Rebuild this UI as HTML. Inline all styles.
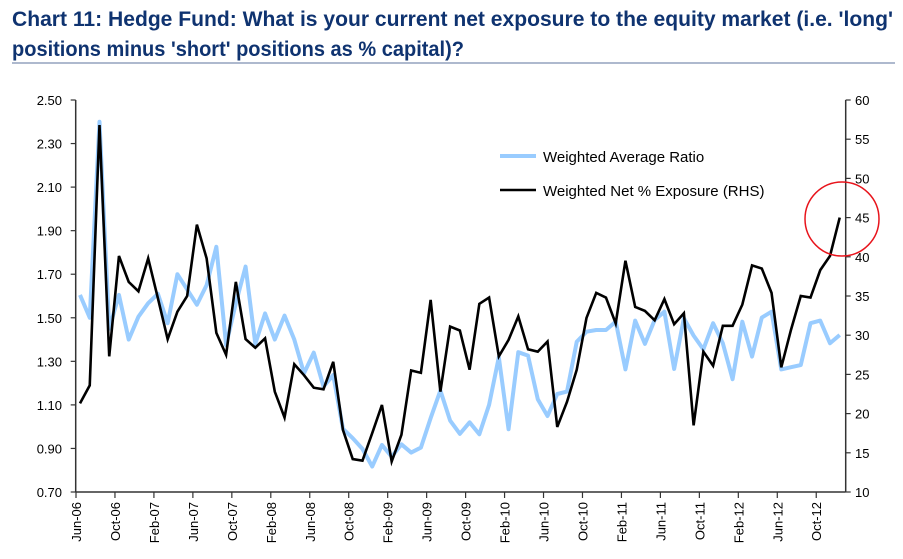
<!DOCTYPE html>
<html><head><meta charset="utf-8"><style>
html,body{margin:0;padding:0;background:#fff;}
svg{display:block;font-family:"Liberation Sans",Arial,sans-serif;}
</style></head><body>
<svg id="c" width="903" height="559" viewBox="0 0 903 559">
<text x="12" y="26" font-size="21" font-weight="bold" fill="#0f3370" textLength="881" lengthAdjust="spacingAndGlyphs">Chart 11: Hedge Fund: What is your current net exposure to the equity market (i.e. 'long'</text>
<text x="12" y="56" font-size="21" font-weight="bold" fill="#0f3370" textLength="452" lengthAdjust="spacingAndGlyphs">positions minus 'short' positions as % capital)?</text>
<line x1="12" y1="63" x2="895" y2="63" stroke="#7d8fb0" stroke-width="1.2"/>
<g id="axes"></g>
<g id="series"></g>
<g>
<line x1="500" y1="156" x2="536" y2="156" stroke="#99ccff" stroke-width="4"/>
<text x="543" y="162" font-size="15" fill="#000">Weighted Average Ratio</text>
<line x1="500" y1="190" x2="536" y2="190" stroke="#000" stroke-width="2.5"/>
<text x="543" y="196" font-size="15" fill="#000">Weighted Net % Exposure (RHS)</text>
</g>
<circle cx="842" cy="219" r="37" fill="none" stroke="#e8141c" stroke-width="1.5"/>
</svg>
<script>
const startYear = 2006, startMonth = 5;
const ratio = [1.605,1.50,2.40,1.45,1.605,1.40,1.505,1.567,1.61,1.475,1.70,1.63,1.56,1.65,1.826,1.375,1.567,1.735,1.38,1.52,1.40,1.51,1.40,1.245,1.34,1.184,1.237,0.99,0.947,0.898,0.817,0.916,0.862,0.919,0.881,0.904,1.039,1.166,1.028,0.967,1.02,0.965,1.10,1.319,0.988,1.342,1.326,1.126,1.049,1.15,1.161,1.39,1.436,1.444,1.444,1.482,1.263,1.487,1.38,1.49,1.528,1.265,1.498,1.418,1.355,1.475,1.383,1.218,1.482,1.322,1.501,1.528,1.263,1.273,1.283,1.475,1.487,1.383,1.421];
const exposure = [21.3,23.6,56.8,27.3,40.1,36.8,35.6,39.8,34.7,29.5,33.0,35.0,44.1,39.8,30.3,27.5,36.8,29.5,28.4,29.6,22.8,19.5,26.3,24.9,23.3,23.1,26.6,17.9,14.2,14.0,17.5,21.1,13.9,17.3,25.5,25.2,34.5,22.8,31.1,30.6,25.6,34.0,34.8,27.3,29.4,32.4,28.2,27.9,29.2,18.3,21.5,25.6,32.2,35.4,34.8,31.5,39.5,33.6,33.1,31.9,34.6,31.4,32.8,18.5,27.9,26.1,31.2,31.2,33.9,38.9,38.5,35.4,25.9,30.7,35.0,34.8,38.3,40.1,45.0];
const leftTicks = ["0.70","0.90","1.10","1.30","1.50","1.70","1.90","2.10","2.30","2.50"];
const rightTicks = ["10","15","20","25","30","35","40","45","50","55","60"];
const monthNames = ["Jan","Feb","Mar","Apr","May","Jun","Jul","Aug","Sep","Oct","Nov","Dec"];

const NS="http://www.w3.org/2000/svg";
const X0=75.7,X1=845.7,Y0=100,Y1=492;
const px0=80, pstep=9.74;
function xs(i){return px0+i*pstep;}
function yl(v){return Y1-(v-0.7)/1.8*(Y1-Y0);}
function yr(v){return Y1-(v-10)/50*(Y1-Y0);}
function mk(t,a,p){const e=document.createElementNS(NS,t);for(const k in a)e.setAttribute(k,a[k]);p.appendChild(e);return e;}
const ax=document.getElementById('axes'), se=document.getElementById('series');
let e;
e=mk('line',{x1:X0,y1:Y0,x2:X0,y2:Y1,stroke:'#333','stroke-width':1.5},ax);


e=mk('line',{x1:X1,y1:Y0,x2:X1,y2:Y1,stroke:'#333','stroke-width':1.5},ax);


e=mk('line',{x1:X0,y1:Y1,x2:X1,y2:Y1,stroke:'#333','stroke-width':1.5},ax);


leftTicks.forEach(t=>{const y=yl(parseFloat(t));
 e=mk('line',{x1:X0-5,y1:y,x2:X0,y2:y,stroke:'#333','stroke-width':1.2},ax);
 
 
 e=mk('text',{x:62,y:y+5,'font-size':13,'text-anchor':'end'},ax);e.textContent=t;
 
 });
rightTicks.forEach(t=>{const y=yr(parseFloat(t));
 e=mk('line',{x1:X1,y1:y,x2:X1+5,y2:y,stroke:'#333','stroke-width':1.2},ax);
 
 
 e=mk('text',{x:855,y:y+5,'font-size':13},ax);e.textContent=t;
 
 });
for(let i=0;i<ratio.length;i+=4){const x=xs(i)-4;
 e=mk('line',{x1:x,y1:Y1,x2:x,y2:Y1+6,stroke:'#333','stroke-width':1.2},ax);
 
 
 const m=(startMonth+i)%12, yr2=startYear+Math.floor((startMonth+i)/12);
 e=mk('text',{x:0,y:0,'font-size':13,'text-anchor':'end',transform:`translate(${x+5},${Y1+10}) rotate(-90)`},ax);
 e.textContent=monthNames[m]+'-'+String(yr2%100).padStart(2,'0');
 
 }
e=mk('polyline',{points:ratio.map((v,i)=>xs(i)+','+yl(v)).join(' '),fill:'none',stroke:'#99ccff','stroke-width':4,'stroke-linejoin':'round'},se);


e=mk('polyline',{points:exposure.map((v,i)=>xs(i)+','+yr(v)).join(' '),fill:'none',stroke:'#000','stroke-width':2.6,'stroke-linejoin':'miter'},se);


</script>
</body></html>
